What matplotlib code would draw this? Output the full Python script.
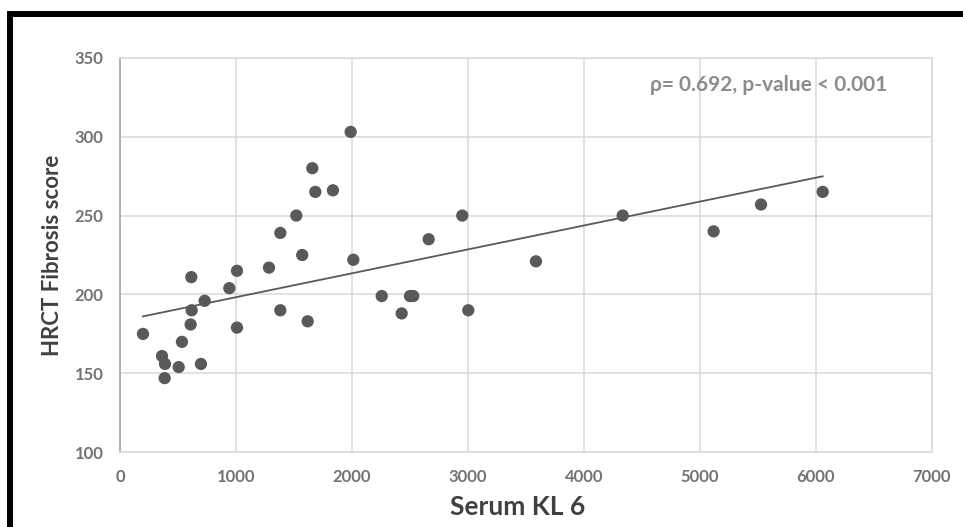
import numpy as np
import matplotlib.pyplot as plt
from matplotlib.patches import Rectangle

plt.rcParams['font.family'] = ['Lato', 'DejaVu Sans']

# values
serum_kl6 = [196, 360, 386, 383, 504, 532, 696, 613, 616, 607, 728, 941, 1007, 1007,
             1283, 1381, 1381, 1519, 1570, 1617, 1657, 1683, 1835, 1988, 2011, 2256,
             2428, 2500, 2528, 2661, 2951, 3003, 3587, 4335, 5120, 5529, 6061]
hrct_score = [175, 161, 156, 147, 154, 170, 156, 211, 190, 181, 196, 204, 215, 179,
              217, 239, 190, 250, 225, 183, 280, 265, 266, 303, 222, 199,
              188, 199, 199, 235, 250, 190, 221, 250, 240, 257, 265]
x_ticks = [0, 1000, 2000, 3000, 4000, 5000, 6000, 7000]
y_ticks = [100, 150, 200, 250, 300, 350]
stats_text = "ρ= 0.692, p-value < 0.001"

x = np.array(serum_kl6)
y = np.array(hrct_score)

fig = plt.figure(figsize=(9.63, 5.27), dpi=100)
ax = fig.add_axes([0.1249, 0.1417, 0.8424, 0.7488])

# thick black frame, cut off at right and bottom like the source image
frame = Rectangle((10 / 963, -0.2), 1.5, 1.2 - 13.5 / 527, transform=fig.transFigure,
                  fill=False, edgecolor='black', linewidth=4.3, clip_on=False)
fig.add_artist(frame)

ax.scatter(x, y, s=78, color='#595959', edgecolors='none', zorder=3)

# linear trend line (least squares)
slope, intercept = np.polyfit(x, y, 1)
xs = np.array([x.min(), x.max()])
ax.plot(xs, slope * xs + intercept, color='#595959', linewidth=1.3, zorder=2)

ax.set_xlim(0, 7000)
ax.set_ylim(100, 350)
ax.set_xticks(x_ticks)
ax.set_yticks(y_ticks)
ax.grid(True, color='#d9d9d9', linewidth=1.1)
ax.set_axisbelow(True)
ax.tick_params(length=0, pad=12, labelsize=12, labelcolor='#737373')
for lab in ax.get_xticklabels() + ax.get_yticklabels():
    lab.set_fontweight('bold')

for side in ['top', 'right', 'bottom']:
    ax.spines[side].set_color('#d9d9d9')
    ax.spines[side].set_linewidth(1.1)
ax.spines['left'].set_color('#a6a6a6')
ax.spines['left'].set_linewidth(1.2)

ax.set_xlabel("Serum KL 6", fontsize=19, fontweight='bold', color='#404040', va='center')
ax.xaxis.set_label_coords(0.49, -0.1386)
ax.set_ylabel("HRCT Fibrosis score", fontsize=16, fontweight='bold', color='#404040', va='center')
ax.yaxis.set_label_coords(-0.083, 0.5)

ax.text(0.799, 0.931, stats_text, transform=ax.transAxes, ha='center', va='center',
        fontsize=15, fontweight='bold', color='#8c8c8c')

fig.savefig("out.png", dpi=100)
